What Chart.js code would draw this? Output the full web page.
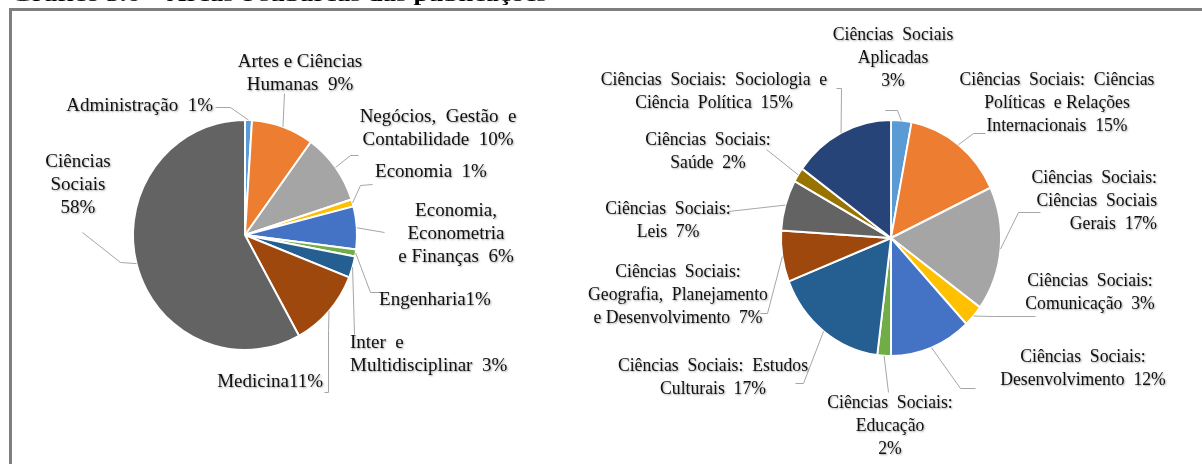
<!DOCTYPE html>
<html lang="pt">
<head>
<meta charset="utf-8">
<script src="https://cdn.jsdelivr.net/npm/chart.js@4.4.1/dist/chart.umd.min.js"></script>
<style>
  html, body { margin: 0; padding: 0; background: #fff; overflow: hidden; }
  #wrap { position: relative; width: 1202px; height: 464px; overflow: hidden; }
  #frame { position: absolute; left: 9px; top: 8px; width: 1400px; height: 700px;
           border-left: 3px solid #7f7f7f; border-top: 3px solid #7f7f7f; }
  canvas { position: absolute; left: 0; top: 0; }
</style>
</head>
<body>
<div id="wrap">
  <div id="frame"></div>
  <canvas id="areas" width="1202" height="464"></canvas>
  <canvas id="subareas" width="1202" height="464"></canvas>
</div>
<script>
  'use strict';

  var chartTitle = 'Gráfico 3.6 – Áreas e subáreas das publicações';

  var areaLabels = [
    'Administração',
    'Artes e Ciências Humanas',
    'Negócios, Gestão e Contabilidade',
    'Economia',
    'Economia, Econometria e Finanças',
    'Engenharia',
    'Inter e Multidisciplinar',
    'Medicina',
    'Ciências Sociais'
  ];
  var areaValues = [1, 9, 10, 1, 6, 1, 3, 11, 58];

  var subLabels = [
    'Ciências Sociais Aplicadas',
    'Ciências Sociais: Ciências Políticas e Relações Internacionais',
    'Ciências Sociais: Ciências Sociais Gerais',
    'Ciências Sociais: Comunicação',
    'Ciências Sociais: Desenvolvimento',
    'Ciências Sociais: Educação',
    'Ciências Sociais: Estudos Culturais',
    'Ciências Sociais: Geografia, Planejamento e Desenvolvimento',
    'Ciências Sociais: Leis',
    'Ciências Sociais: Saúde',
    'Ciências Sociais: Sociologia e Ciência Política'
  ];
  var subValues = [3, 15, 17, 3, 12, 2, 17, 7, 7, 2, 15];

  // office palette, in slice order
  var sliceColors = [
    '#5b9bd5', '#ed7d31', '#a5a5a5', '#ffc000', '#4472c4', '#70ad47',
    '#255e91', '#9e480e', '#636363', '#997300', '#264478'
  ];

  // wrapped label text ({v} = slice value), text position and leader line bends
  var areaCallouts = [
    { lines: ['Administração  {v}'], x: 213, y: 106, align: 'right', path: [[230, 107], [215, 107]] },
    { lines: ['Artes e Ciências', 'Humanas  {v}'], x: 300, y: 62, path: [[284, 93]] },
    { lines: ['Negócios,  Gestão  e', 'Contabilidade  {v}'], x: 438, y: 117, path: [[350, 155], [358, 155]] },
    { lines: ['Economia  {v}'], x: 431, y: 172, path: [[360, 185], [372, 184]] },
    { lines: ['Economia,', 'Econometria', 'e Finanças  {v}'], x: 456, y: 211, path: [[384, 232]] },
    { lines: ['Engenharia{v}'], x: 435, y: 300, path: [[370, 292], [383, 292]] },
    { lines: ['Inter  e', 'Multidisciplinar  {v}'], x: 350, y: 343, align: 'left', path: [[354, 334]] },
    { lines: ['Medicina{v}'], x: 323, y: 382, align: 'right', path: [[328, 330], [328, 392], [324, 392]] },
    { lines: ['Ciências', 'Sociais', '{v}'], x: 78, y: 162, path: [[120, 262], [82, 232]] }
  ];

  var subCallouts = [
    { lines: ['Ciências  Sociais', 'Aplicadas', '{v}'], x: 893, y: 35, path: [[897, 110], [885, 110]] },
    { lines: ['Ciências  Sociais:  Ciências', 'Políticas  e Relações', 'Internacionais  {v}'], x: 1057, y: 80, path: [[973, 133], [985, 133]] },
    { lines: ['Ciências  Sociais:', 'Ciências  Sociais', 'Gerais  {v}'], x: 1157, y: 178, align: 'right', path: [[1018, 212], [1040, 212]] },
    { lines: ['Ciências  Sociais:', 'Comunicação  {v}'], x: 1090, y: 281, path: [[993, 316], [1035, 316]] },
    { lines: ['Ciências  Sociais:', 'Desenvolvimento  {v}'], x: 1083, y: 357, path: [[960, 388], [975, 388]] },
    { lines: ['Ciências  Sociais:', 'Educação', '{v}'], x: 890, y: 403, path: [[888, 392]] },
    { lines: ['Ciências  Sociais:  Estudos', 'Culturais  {v}'], x: 713, y: 366, path: [[803, 383], [795, 383]] },
    { lines: ['Ciências  Sociais:', 'Geografia,  Planejamento', 'e Desenvolvimento  {v}'], x: 678, y: 272, path: [[767, 313], [760, 313]] },
    { lines: ['Ciências  Sociais:', 'Leis  {v}'], x: 668, y: 209, path: [[728, 211]] },
    { lines: ['Ciências  Sociais:', 'Saúde  {v}'], x: 708, y: 140, path: [[766, 149]] },
    { lines: ['Ciências  Sociais:  Sociologia  e', 'Ciência  Política  {v}'], x: 714, y: 80, path: [[841, 88], [836, 88]] }
  ];

  // squeeze the pie horizontally around its centre
  var ellipsePlugin = {
    id: 'ellipse',
    beforeDatasetsDraw: function(chart, args, opts) {
      var arc = chart.getDatasetMeta(0).data[0];
      var ctx = chart.ctx;
      ctx.save();
      ctx.translate(arc.x, arc.y);
      ctx.scale(opts.sx, 1);
      ctx.translate(-arc.x, -arc.y);
    },
    afterDatasetsDraw: function(chart) {
      chart.ctx.restore();
    }
  };

  // outside labels with leader lines
  var calloutPlugin = {
    id: 'callouts',
    afterDraw: function(chart, args, opts) {
      var ctx = chart.ctx;
      var meta = chart.getDatasetMeta(0);
      var values = chart.data.datasets[0].data;
      ctx.save();

      opts.items.forEach(function(item, i) {
        var p = meta.data[i].getProps(['x', 'y', 'startAngle', 'endAngle', 'outerRadius'], true);
        var mid = (p.startAngle + p.endAngle) / 2;
        ctx.shadowColor = 'transparent';
        ctx.strokeStyle = '#a6a6a6';
        ctx.lineWidth = 1;
        ctx.beginPath();
        ctx.moveTo(p.x + Math.cos(mid) * p.outerRadius * opts.sx, p.y + Math.sin(mid) * p.outerRadius);
        item.path.forEach(function(pt) { ctx.lineTo(pt[0] + 0.5, pt[1] + 0.5); });
        ctx.stroke();

        ctx.font = opts.font;
        ctx.fillStyle = '#111';
        ctx.textBaseline = 'middle';
        ctx.textAlign = item.align || 'center';
        ctx.shadowColor = 'rgba(0,0,0,0.35)';
        ctx.shadowBlur = 2;
        ctx.shadowOffsetX = 1;
        ctx.shadowOffsetY = 1;
        item.lines.forEach(function(line, k) {
          ctx.save();
          ctx.translate(item.x, item.y + k * opts.lineHeight);
          ctx.scale(opts.textScale, 1);
          ctx.fillText(line.replace('{v}', values[i] + '%'), 0, 0);
          ctx.restore();
        });
      });

      // page caption, mostly above the top edge
      if (opts.title) {
        ctx.shadowColor = 'transparent';
        ctx.font = 'bold 17px "Liberation Serif"';
        ctx.textAlign = 'left';
        ctx.textBaseline = 'alphabetic';
        ctx.fillStyle = '#000';
        var w = ctx.measureText(opts.title).width;
        ctx.translate(11, 0.5);
        ctx.scale(536 / w, 1);
        ctx.fillText(opts.title, 0, 0);
      }
      ctx.restore();
    }
  };

  function pieConfig(labels, values, radius, padding, sx, callouts, fontSize, textScale, title) {
    return {
      type: 'pie',
      data: {
        labels: labels,
        datasets: [{
          data: values,
          backgroundColor: sliceColors.slice(0, values.length),
          borderColor: '#ffffff',
          borderWidth: 2
        }]
      },
      options: {
        responsive: false,
        animation: false,
        radius: radius,
        layout: { padding: padding },
        plugins: {
          legend: { display: false },
          tooltip: { enabled: false },
          ellipse: { sx: sx },
          callouts: {
            items: callouts,
            sx: sx,
            font: fontSize + 'px "Liberation Serif"',
            lineHeight: 23,
            textScale: textScale,
            title: title
          }
        }
      },
      plugins: [ellipsePlugin, calloutPlugin]
    };
  }

  new Chart(document.getElementById('areas').getContext('2d'),
    pieConfig(areaLabels, areaValues, 115,
      { left: 130, right: 842, top: 120, bottom: 114 }, 0.974, areaCallouts, 19, 1.0, chartTitle));

  new Chart(document.getElementById('subareas').getContext('2d'),
    pieConfig(subLabels, subValues, 118,
      { left: 773, right: 193, top: 120, bottom: 108 }, 0.932, subCallouts, 18, 0.98, null));
</script>
</body>
</html>
